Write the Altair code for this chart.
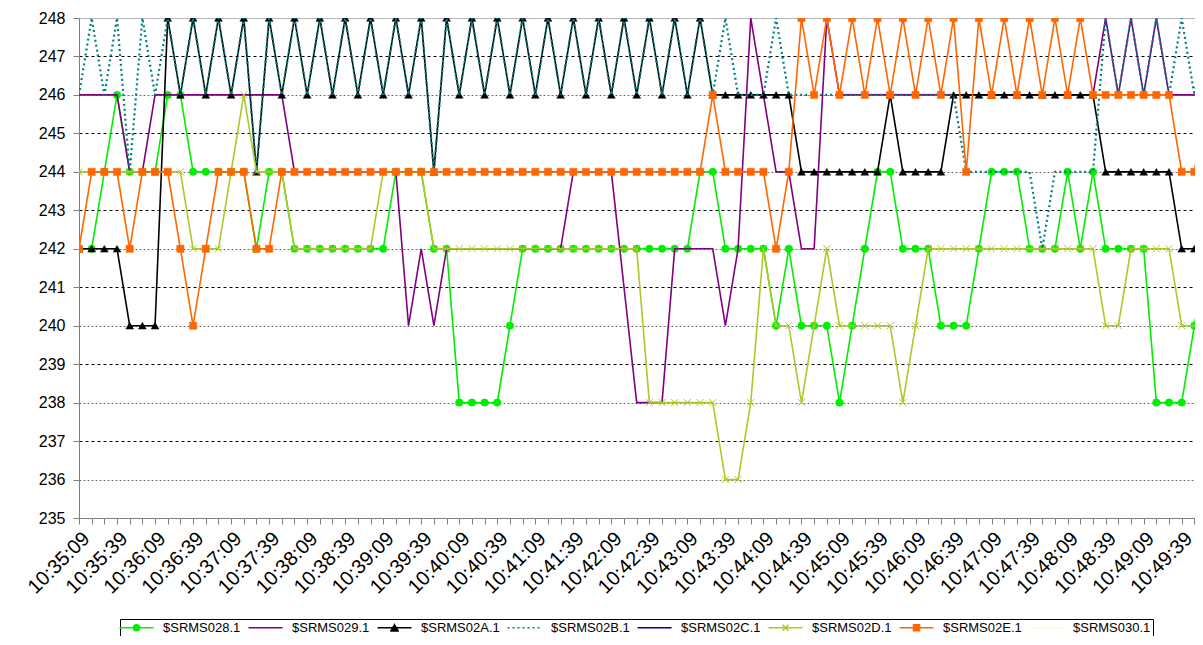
import json
import altair as alt
import pandas as pd

series_names = ["$SRMS028.1", "$SRMS029.1", "$SRMS02A.1", "$SRMS02B.1",
                "$SRMS02C.1", "$SRMS02D.1", "$SRMS02E.1", "$SRMS030.1"]
series_colors = ["#00EE00", "#800080", "#000000", "#008080",
                 "#0000A0", "#ADC82A", "#FF6600", "#FFFFC0"]

tick_labels = ["10:35:09", "10:35:39", "10:36:09", "10:36:39", "10:37:09", "10:37:39",
               "10:38:09", "10:38:39", "10:39:09", "10:39:39", "10:40:09", "10:40:39",
               "10:41:09", "10:41:39", "10:42:09", "10:42:39", "10:43:09", "10:43:39",
               "10:44:09", "10:44:39", "10:45:09", "10:45:39", "10:46:09", "10:46:39",
               "10:47:09", "10:47:39", "10:48:09", "10:48:39", "10:49:09", "10:49:39"]

s028 = [242, 242, 244, 246, 244, 244, 244, 246, 246, 244,
        244, 244, 244, 244, 242, 244, 244, 242, 242, 242,
        242, 242, 242, 242, 242, 244, 244, 244, 242, 242,
        238, 238, 238, 238, 240, 242, 242, 242, 242, 242,
        242, 242, 242, 242, 242, 242, 242, 242, 242, 244,
        244, 242, 242, 242, 242, 240, 242, 240, 240, 240,
        238, 240, 242, 244, 244, 242, 242, 242, 240, 240,
        240, 242, 244, 244, 244, 242, 242, 242, 244, 242,
        244, 242, 242, 242, 242, 238, 238, 238, 240, 242]
s029 = [246, 246, 246, 246, 244, 244, 246, 246, 246, 246,
        246, 246, 246, 246, 246, 246, 246, 244, 244, 244,
        244, 244, 244, 244, 244, 244, 240, 242, 240, 242,
        242, 242, 242, 242, 242, 242, 242, 242, 242, 244,
        244, 244, 244, 241, 238, 238, 238, 242, 242, 242,
        242, 240, 242, 248, 246, 244, 244, 242, 242, 248,
        246, 246, 246, 246, 246, 246, 246, 246, 246, 246,
        246, 246, 246, 246, 246, 246, 246, 246, 246, 246,
        246, 248, 246, 248, 246, 248, 246, 246, 246, 246]
s02A = [242, 242, 242, 242, 240, 240, 240, 248, 246, 248,
        246, 248, 246, 248, 244, 248, 246, 248, 246, 248,
        246, 248, 246, 248, 246, 248, 246, 248, 244, 248,
        246, 248, 246, 248, 246, 248, 246, 248, 246, 248,
        246, 248, 246, 248, 246, 248, 246, 248, 246, 248,
        246, 246, 246, 246, 246, 246, 246, 244, 244, 244,
        244, 244, 244, 244, 246, 244, 244, 244, 244, 246,
        246, 246, 246, 246, 246, 246, 246, 246, 246, 246,
        246, 244, 244, 244, 244, 244, 244, 242, 242, 242]
s02B = [246, 248, 246, 248, 244, 248, 246, 248, 246, 248,
        246, 248, 246, 248, 244, 248, 246, 248, 246, 248,
        246, 248, 246, 248, 246, 248, 246, 248, 244, 248,
        246, 248, 246, 248, 246, 248, 246, 248, 246, 248,
        246, 248, 246, 248, 246, 248, 246, 248, 246, 248,
        246, 248, 246, 246, 246, 248, 246, 246, 246, 246,
        246, 246, 246, 246, 246, 246, 246, 246, 246, 246,
        244, 244, 244, 244, 244, 244, 242, 244, 244, 244,
        244, 248, 246, 248, 246, 248, 246, 248, 246, 248]
s02C = []
s02D = [244, 244, 244, 244, 244, 244, 244, 244, 244, 242,
        242, 242, 244, 246, 244, 244, 244, 242, 242, 242,
        242, 242, 242, 242, 244, 244, 244, 244, 242, 242,
        242, 242, 242, 242, 242, 242, 242, 242, 242, 242,
        242, 242, 242, 242, 242, 238, 238, 238, 238, 238,
        238, 236, 236, 238, 242, 240, 240, 238, 240, 242,
        240, 240, 240, 240, 240, 238, 240, 242, 242, 242,
        242, 242, 242, 242, 242, 242, 242, 242, 242, 242,
        242, 240, 240, 242, 242, 242, 242, 240, 240, 240]
s02E = [242, 244, 244, 244, 242, 244, 244, 244, 242, 240,
        242, 244, 244, 244, 242, 242, 244, 244, 244, 244,
        244, 244, 244, 244, 244, 244, 244, 244, 244, 244,
        244, 244, 244, 244, 244, 244, 244, 244, 244, 244,
        244, 244, 244, 244, 244, 244, 244, 244, 244, 244,
        246, 244, 244, 244, 244, 242, 244, 248, 246, 248,
        246, 248, 246, 248, 246, 248, 246, 248, 246, 248,
        244, 248, 246, 248, 246, 248, 246, 248, 246, 248,
        246, 246, 246, 246, 246, 246, 246, 244, 244, 246]
s030 = []

series_values = [s028, s029, s02A, s02B, s02C, s02D, s02E, s030]

rows = []
for name, vals in zip(series_names, series_values):
    for i, v in enumerate(vals):
        rows.append({"series": name, "i": i, "value": v})
df = pd.DataFrame(rows)

# ---- styles ----
line_style = {
    "$SRMS028.1": dict(strokeWidth=1.6),
    "$SRMS029.1": dict(strokeWidth=1.6),
    "$SRMS02A.1": dict(strokeWidth=1.6),
    "$SRMS02B.1": dict(strokeWidth=2.2, strokeDash=[2, 3]),
    "$SRMS02C.1": dict(strokeWidth=1.6),
    "$SRMS02D.1": dict(strokeWidth=1.6),
    "$SRMS02E.1": dict(strokeWidth=1.6),
    "$SRMS030.1": dict(strokeWidth=1.6),
}
marker_style = {
    "$SRMS028.1": dict(shape="circle", size=56, filled=True),
    "$SRMS02A.1": dict(shape="triangle-up", size=60, filled=True),
    "$SRMS02D.1": dict(shape="M-1,-1L1,1M-1,1L1,-1", size=49, filled=False, strokeWidth=1),
    "$SRMS02E.1": dict(shape="square", size=52, filled=True),
}
color_of = dict(zip(series_names, series_colors))

FONT = "Liberation Sans, Arial, sans-serif"

label_expr = ("datum.value % 3 === 0 ? " + json.dumps(tick_labels) +
              "[round(datum.value / 3)] : ''")

x_enc = alt.X(
    "i:Q",
    scale=alt.Scale(domain=[0, 88.05], nice=False, zero=False),
    axis=alt.Axis(
        title=None, values=list(range(0, 89)), labelExpr=label_expr,
        labelAngle=-45, labelFontSize=20, labelFont=FONT, labelColor="black",
        labelOverlap=False, labelFlush=False, labelBound=False, labelPadding=4,
        tickSize=6, tickColor="#808080", domainColor="#808080", grid=False,
    ),
)
y_enc = alt.Y(
    "value:Q",
    scale=alt.Scale(domain=[235, 248], nice=False, zero=False),
    axis=alt.Axis(
        title=None, values=list(range(235, 249)), labelFontSize=16, labelFont=FONT,
        labelColor="black", labelPadding=8, tickSize=6, tickColor="#808080",
        domainColor="#808080",
        grid=True,
        gridColor={"condition": [{"test": "datum.value === 248", "value": "#A0A0A0"},
                                 {"test": "datum.value % 2 === 0", "value": "#707070"}],
                   "value": "#000000"},
        gridDash={"condition": [{"test": "datum.value === 248", "value": [1, 0]},
                                {"test": "datum.value % 2 === 0", "value": [2, 2]}],
                  "value": [3, 3]},
        gridWidth=1,
    ),
)

base = alt.Chart(df)
layers = []
for name, vals in zip(series_names, series_values):
    if len(vals) == 0:
        continue
    sub = base.transform_filter(alt.datum.series == name)
    layers.append(
        sub.mark_line(color=color_of[name], clip=True, **line_style[name]).encode(x=x_enc, y=y_enc)
    )
    if name in marker_style:
        ms = dict(marker_style[name])
        if ms.get("filled"):
            layers.append(sub.mark_point(fill=color_of[name], stroke=color_of[name],
                                         strokeWidth=0.5, opacity=1, clip=True, **ms)
                          .encode(x=x_enc, y=y_enc))
        else:
            layers.append(sub.mark_point(stroke=color_of[name], opacity=1, clip=True, **ms)
                          .encode(x=x_enc, y=y_enc))

# ---- legend symbols (line + marker), unit = sqrt(symbolSize)/2 px ----
SYM_SIZE = 100
U = (SYM_SIZE ** 0.5) / 2.0
HALF = 17


def f(v):
    return f"{v / U:.3f}"


def line_path(half=HALF):
    return f"M{f(-half)},0H{f(half)}"


def dotted_path(half=HALF):
    parts = []
    x = -half
    while x < half:
        parts.append(f"M{f(x)},0H{f(min(x + 2, half))}")
        x += 5
    return "".join(parts)


def rings(rs):
    return "".join(f"M{f(r)},0A{f(r)},{f(r)} 0 1,1 {f(-r)},0A{f(r)},{f(r)} 0 1,1 {f(r)},0Z" for r in rs)


def squares(hs):
    return "".join(f"M{f(-h)},{f(-h)}H{f(h)}V{f(h)}H{f(-h)}Z" for h in hs)


def triangle_rows():
    out = []
    for y in [-3.4, -2.2, -1.0, 0.2, 1.4, 2.6, 3.2]:
        hw = 4.4 * (y + 4.3) / 7.6
        out.append(f"M{f(-hw)},{f(y)}H{f(hw)}")
    return "".join(out)


def cross():
    return f"M{f(-3)},{f(-3)}L{f(3)},{f(3)}M{f(-3)},{f(3)}L{f(3)},{f(-3)}"


legend_shapes = [
    line_path() + rings([0.6, 1.8, 3.0]),
    line_path(),
    line_path() + triangle_rows(),
    dotted_path(),
    line_path(),
    line_path() + cross(),
    line_path() + squares([0.6, 1.8, 3.0]),
    line_path(),
]

leg = alt.Legend(
    title=None, orient="none", legendX=41, legendY=601, direction="horizontal",
    columns=8, gridAlign="each", columnPadding=4, symbolSize=SYM_SIZE,
    symbolStrokeWidth=1.5, symbolOffset=8, labelOffset=20, labelFont=FONT,
    labelFontSize=13, labelColor="black", padding=2, strokeColor="#000000",
    fillColor="white", symbolOpacity=1,
)
legend_df = pd.DataFrame({"series": series_names})
legend_layer = alt.Chart(legend_df).mark_point(filled=False, opacity=0).encode(
    x=alt.value(0), y=alt.value(0),
    color=alt.Color("series:N", scale=alt.Scale(domain=series_names, range=series_colors), legend=leg),
    shape=alt.Shape("series:N", scale=alt.Scale(domain=series_names, range=legend_shapes), legend=leg),
)
layers.append(legend_layer)

chart = alt.layer(*layers).properties(
    width=1116, height=500,
    padding={"left": 71, "top": 10, "right": 0, "bottom": 118},
    autosize=alt.AutoSizeParams(type="none"),
    background="white",
).configure_view(stroke=None)

chart.save("out.html", embed_options={"renderer": "svg", "actions": False})
